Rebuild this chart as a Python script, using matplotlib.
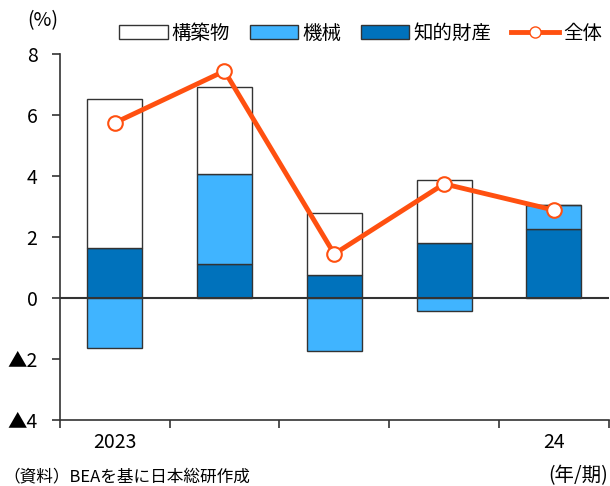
import numpy as np
import matplotlib.pyplot as plt
from matplotlib.lines import Line2D
from matplotlib.patches import Patch

plt.rcParams['font.family'] = ['Noto Sans CJK JP', 'DejaVu Sans']

# data (%, contributions)
quarters = ['2023', '', '', '', '24']
structures = [4.88, 2.85, 2.04, 2.07, 0.0]
equipment = [-1.65, 2.96, -1.74, -0.43, 0.79]
ip = [1.63, 1.11, 0.75, 1.80, 2.26]
total = [5.74, 7.44, 1.44, 3.74, 2.88]

c_eq = '#40B4FF'
c_ip = '#0072BC'
c_line = '#FF5010'
edge = '#333333'

fig = plt.figure(figsize=(6.1, 4.86), dpi=100)
ax = fig.add_axes([0.098, 0.136, 0.9, 0.753])

x = np.arange(len(quarters))
w = 0.5
pos_base = np.zeros(len(x))
neg_base = np.zeros(len(x))
for vals, fc in [(ip, c_ip), (equipment, c_eq), (structures, 'white')]:
    vals = np.array(vals)
    bottoms = np.where(vals >= 0, pos_base, neg_base)
    ax.bar(x, vals, w, bottom=bottoms, color=fc, edgecolor=edge, linewidth=1, zorder=2)
    pos_base = pos_base + np.where(vals > 0, vals, 0)
    neg_base = neg_base + np.where(vals < 0, vals, 0)

ax.axhline(0, color=edge, linewidth=1.5, zorder=3)
ax.plot(x, total, color=c_line, linewidth=3.5, marker='o', markersize=10.5,
        markerfacecolor='white', markeredgecolor=c_line, markeredgewidth=1.5, zorder=4)

ax.set_xlim(-0.5, len(x) - 0.5)
ax.set_ylim(-4, 8)
ax.set_yticks([-4, -2, 0, 2, 4, 6, 8])
ax.set_yticklabels(['▲4', '▲2', '0', '2', '4', '6', '8'], fontsize=14)
ax.set_xticks(np.arange(-0.5, len(x), 1))
ax.set_xticklabels([])
ax.set_xticks(x, minor=True)
ax.set_xticklabels(quarters, minor=True, fontsize=14)
ax.tick_params(axis='x', which='minor', length=0, pad=9)
ax.tick_params(axis='x', which='major', length=6, color=edge, width=1.2)
ax.tick_params(axis='y', length=6, color=edge, width=1.2, pad=10)
for s in ['top', 'right']:
    ax.spines[s].set_visible(False)
for s in ['left', 'bottom']:
    ax.spines[s].set_color(edge)
    ax.spines[s].set_linewidth(1.2)

handles = [Patch(facecolor='white', edgecolor=edge, label='構築物'),
           Patch(facecolor=c_eq, edgecolor=edge, label='機械'),
           Patch(facecolor=c_ip, edgecolor=edge, label='知的財産'),
           Line2D([0], [0], color=c_line, linewidth=3.5, marker='o', markersize=8,
                  markerfacecolor='white', markeredgecolor=c_line, label='全体')]
fig.legend(handles=handles, loc='center right', bbox_to_anchor=(1.0, 0.932), ncol=4,
           frameon=False, fontsize=14, handlelength=2.5, handleheight=0.7,
           handletextpad=0.2, columnspacing=1.0, borderaxespad=0)

fig.text(0.045, 0.958, '(%)', fontsize=14, va='center', ha='left')
fig.text(0.997, 0.022, '(年/期)', fontsize=14, va='center', ha='right')
fig.text(0.006, 0.018, '（資料）BEAを基に日本総研作成', fontsize=12, va='center', ha='left')

fig.savefig('out.png', dpi=100)
